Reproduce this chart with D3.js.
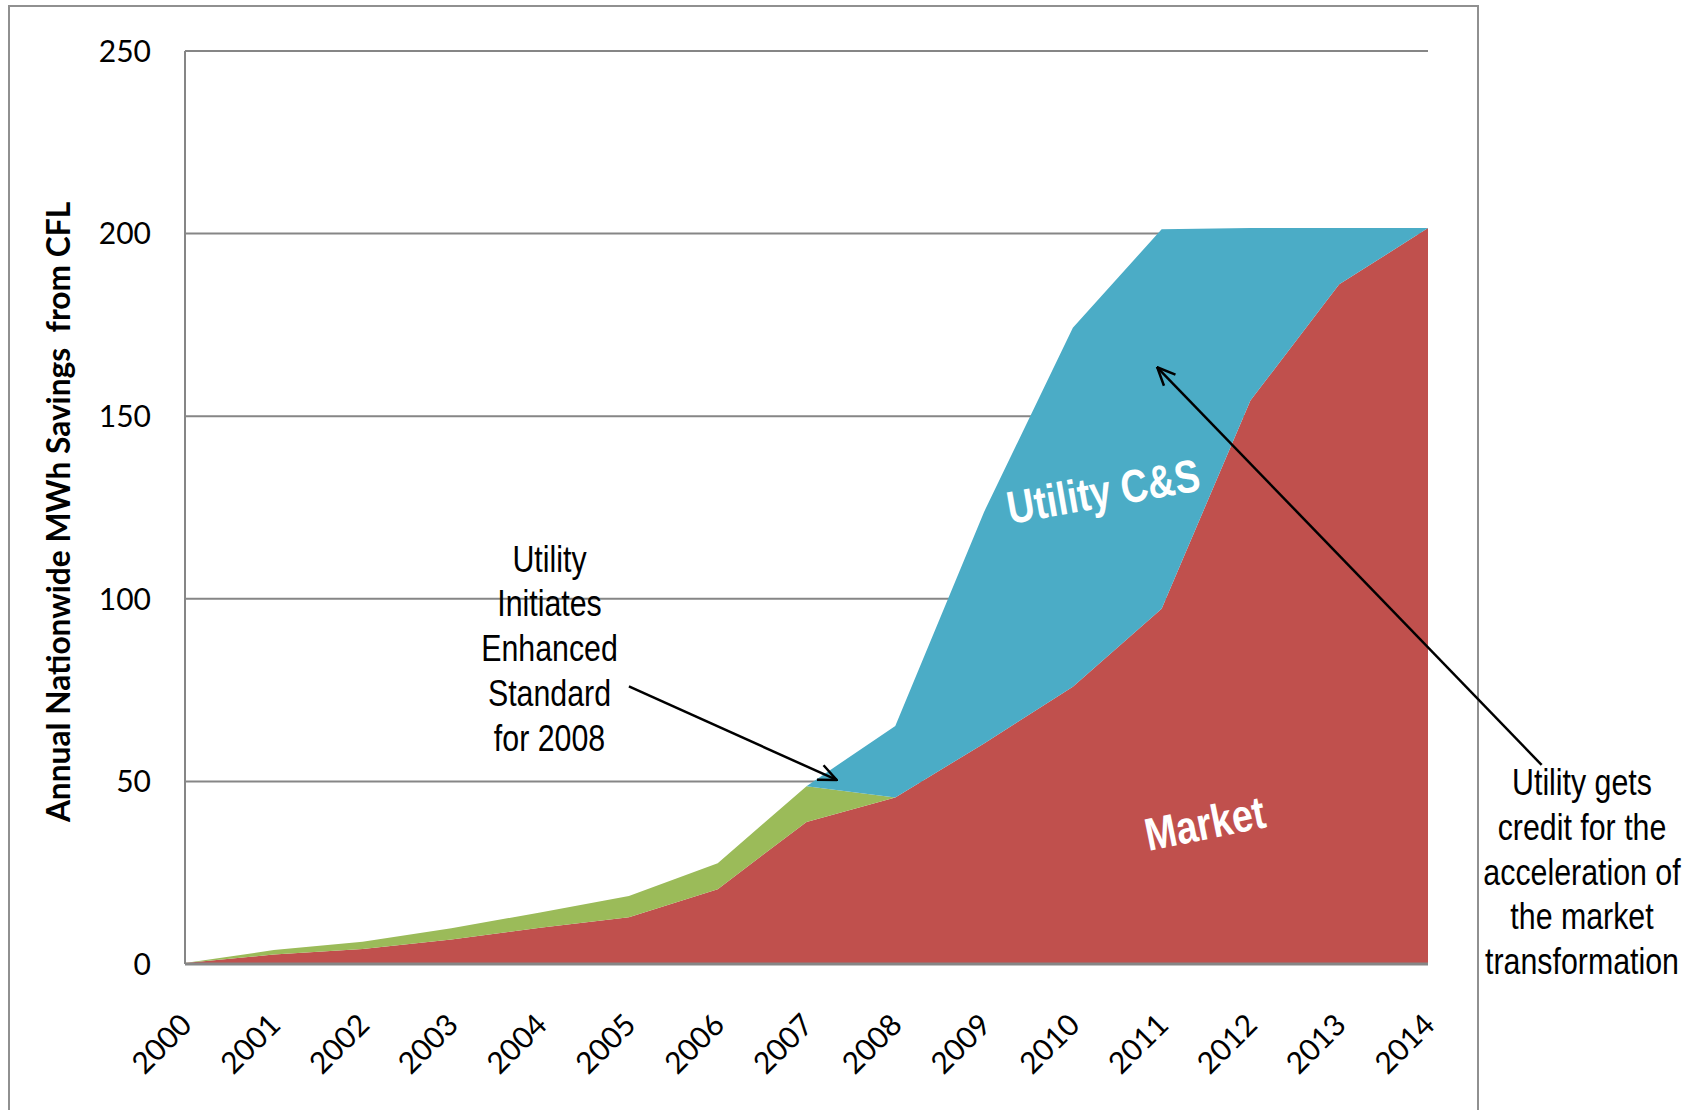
<!DOCTYPE html>
<html>
<head>
<meta charset="utf-8">
<script src="https://cdnjs.cloudflare.com/ajax/libs/d3/7.8.5/d3.min.js"></script>
<style>
  body { margin: 0; background: #fff; }
  svg { display: block; }
</style>
</head>
<body>
<script>
// chart values
var years = [2000, 2001, 2002, 2003, 2004, 2005, 2006, 2007, 2008, 2009, 2010, 2011, 2012, 2013, 2014];
var market = [0.3, 2.6, 4.1, 6.7, 9.9, 12.8, 20.5, 38.9, 45.6, 60.4, 75.9, 97.3, 154.3, 186.1, 201.5];
var utilityProgram = [0, 1.2, 2.0, 3.1, 4.2, 5.8, 7.1, 9.8, 0, 0, 0, 0, 0, 0, 0];
var utilityCS = [0, 0, 0, 0, 0, 0, 0, 0, 19.6, 63.4, 98.3, 103.9, 47.2, 15.4, 0];
var yTicks = [0, 50, 100, 150, 200, 250];
var yTitle = "Annual Nationwide MWh Savings  from CFL";
var note1 = ["Utility", "Initiates", "Enhanced", "Standard", "for 2008"];
var note2 = ["Utility gets", "credit for the", "acceleration of", "the market", "transformation"];

var W = 1689, H = 1110;
var plotL = 185, plotR = 1428, plotT = 51, plotB = 964;

var svg = d3.select("body").append("svg")
  .attr("width", W)
  .attr("height", H);

// outer frame
svg.append("rect")
  .attr("x", 9).attr("y", 6)
  .attr("width", 1469).attr("height", 1200)
  .attr("fill", "none")
  .attr("stroke", "#909090")
  .attr("stroke-width", 2);

var x = d3.scaleLinear().domain([2000, 2014]).range([plotL, plotR]);
var y = d3.scaleLinear().domain([0, 250]).range([plotB, plotT]);

// gridlines
svg.append("g").selectAll("line")
  .data(yTicks.filter(function(d){ return d > 0; }))
  .enter().append("line")
  .attr("x1", plotL).attr("x2", plotR)
  .attr("y1", function(d){ return y(d); })
  .attr("y2", function(d){ return y(d); })
  .attr("stroke", "#868686")
  .attr("stroke-width", 2);

// stacked areas
var rows = years.map(function(yr, i){
  return {year: yr, market: market[i], program: utilityProgram[i], cs: utilityCS[i]};
});
var stack = d3.stack().keys(["market", "program", "cs"]);
var colors = {market: "#C0504D", program: "#9BBB59", cs: "#4BACC6"};

var area = d3.area()
  .x(function(d){ return x(d.data.year); })
  .y0(function(d){ return y(d[0]); })
  .y1(function(d){ return y(d[1]); });

svg.append("g").selectAll("path")
  .data(stack(rows))
  .enter().append("path")
  .attr("d", area)
  .attr("fill", function(d){ return colors[d.key]; });

// axes lines
svg.append("line")
  .attr("x1", plotL).attr("x2", plotL)
  .attr("y1", plotT).attr("y2", plotB)
  .attr("stroke", "#868686").attr("stroke-width", 2);
svg.append("line")
  .attr("x1", plotL).attr("x2", plotR)
  .attr("y1", plotB).attr("y2", plotB)
  .attr("stroke", "#868686").attr("stroke-width", 3);

// y tick labels
svg.append("g").selectAll("text")
  .data(yTicks)
  .enter().append("text")
  .attr("x", 151)
  .attr("y", function(d){ return y(d); })
  .attr("dy", "0.36em")
  .attr("text-anchor", "end")
  .style("font-family", "Lato, 'Open Sans', sans-serif")
  .style("font-size", "30px")
  .attr("fill", "#000")
  .text(function(d){ return d; });

// x tick labels
svg.append("g").selectAll("text")
  .data(years)
  .enter().append("text")
  .attr("transform", function(d){ return "translate(" + (x(d) + 1) + ",1019) rotate(-45)"; })
  .attr("dy", "0.36em")
  .attr("text-anchor", "end")
  .style("font-family", "Lato, 'Open Sans', sans-serif")
  .style("font-size", "30px")
  .attr("fill", "#000")
  .text(function(d){ return d; });

// y title
svg.append("text")
  .attr("transform", "translate(59,512) rotate(-90)")
  .attr("dy", "0.36em")
  .attr("text-anchor", "middle")
  .style("white-space", "pre")
  .style("font-family", "Lato, 'Open Sans', sans-serif")
  .style("font-weight", "bold")
  .style("font-size", "31.7px")
  .text(yTitle);

// area labels (narrow bold)
function narrowLabel(txt, cx, cy, ang, size){
  svg.append("text")
    .attr("transform", "translate(" + cx + "," + cy + ") rotate(" + ang + ") scale(0.82,1)")
    .attr("text-anchor", "middle")
    .style("font-family", "'Liberation Sans', Arial, sans-serif")
    .style("font-weight", "bold")
    .style("font-size", size + "px")
    .attr("fill", "#fff")
    .text(txt);
}
narrowLabel("Utility C&S", 1106, 507, -10, 46);
narrowLabel("Market", 1208, 839, -11.5, 46);

// annotation notes
function note(lines, cx, firstBase){
  var t = svg.append("text")
    .attr("transform", "translate(" + cx + "," + firstBase + ") scale(0.82,1)")
    .attr("text-anchor", "middle")
    .style("font-family", "'Liberation Sans', Arial, sans-serif")
    .style("font-size", "37px")
    .attr("fill", "#000");
  t.selectAll("tspan").data(lines).enter().append("tspan")
    .attr("x", 0)
    .attr("y", function(d, i){ return i * 44.8; })
    .text(function(d){ return d; });
}
note(note1, 549.5, 571.7);
note(note2, 1582, 795);

// arrows
var defs = svg.append("defs");
defs.append("marker")
  .attr("id", "head")
  .attr("viewBox", "0 0 20 20")
  .attr("refX", 19).attr("refY", 10)
  .attr("markerWidth", 20).attr("markerHeight", 20)
  .attr("markerUnits", "userSpaceOnUse")
  .attr("orient", "auto")
  .append("path")
  .attr("d", "M1,2 L19,10 L1,18")
  .attr("fill", "none")
  .attr("stroke", "#000")
  .attr("stroke-width", 2.5);

var arrows = [
  {from: [2005.0, 76], to: [2007.34, 50.4]},
  {from: [2015.28, 54.5], to: [2010.95, 163.4]}
];
svg.append("g").selectAll("line")
  .data(arrows)
  .enter().append("line")
  .attr("x1", function(d){ return x(d.from[0]); })
  .attr("y1", function(d){ return y(d.from[1]); })
  .attr("x2", function(d){ return x(d.to[0]); })
  .attr("y2", function(d){ return y(d.to[1]); })
  .attr("stroke", "#000")
  .attr("stroke-width", 2.5)
  .attr("marker-end", "url(#head)");
</script>
</body>
</html>
